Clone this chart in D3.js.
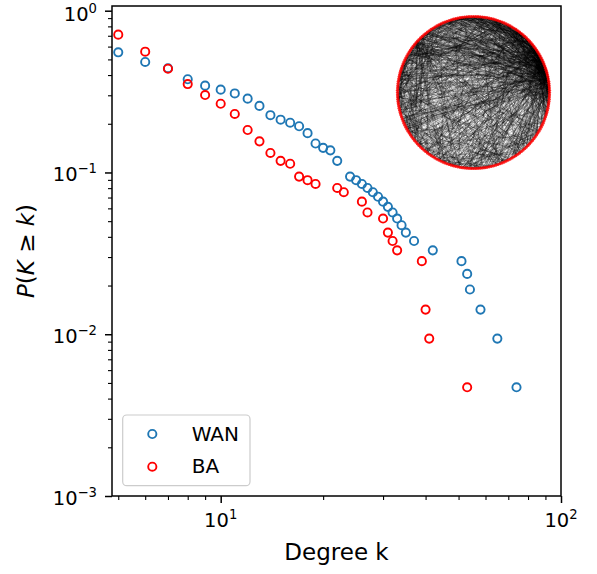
<!DOCTYPE html>
<html>
<head>
<meta charset="utf-8">
<script src="https://cdn.jsdelivr.net/npm/d3@7"></script>
<style>
  html, body { margin: 0; padding: 0; background: #ffffff; }
  svg { display: block; }
  text { font-family: "DejaVu Sans", sans-serif; fill: #000; }
</style>
</head>
<body>
<svg id="chart" width="597" height="574"></svg>
<script>
// Cumulative degree distributions P(K >= k)
const wanDegree = [5, 6, 7, 8, 9, 10, 11, 12, 13, 14, 15, 16, 17, 18, 19, 20, 21, 22,
  24, 25, 26, 27, 28, 29, 30, 31, 32, 33, 34, 35, 37, 42, 51, 53, 54, 58, 65, 74];
const wanP = [0.553, 0.482, 0.441, 0.377, 0.344, 0.325, 0.308, 0.286, 0.258, 0.226, 0.212, 0.203,
  0.193, 0.175, 0.151, 0.142, 0.137, 0.118,
  0.0943, 0.0896, 0.0849, 0.0802, 0.0755, 0.0708, 0.0660, 0.0613, 0.0566, 0.0519, 0.0472, 0.0425,
  0.0377, 0.0330, 0.0283, 0.0236, 0.0189, 0.0142, 0.0094, 0.0047];

const baDegree = [5, 6, 7, 8, 9, 10, 11, 12, 13, 14, 15, 16, 17, 18, 19, 22, 23, 26, 27,
  30, 31, 32, 33, 39, 40, 41, 53];
const baP = [0.711, 0.558, 0.438, 0.352, 0.301, 0.266, 0.230, 0.183, 0.1557, 0.132, 0.118, 0.1132,
  0.0943, 0.0896, 0.0849, 0.0802, 0.0755, 0.0660, 0.0566,
  0.0519, 0.0425, 0.0377, 0.0330, 0.0283, 0.0142, 0.0094, 0.0047];

const seriesNames = ["WAN", "BA"];
const seriesColors = ["#1f77b4", "#ff0000"];

// Axis ticks (powers of ten with exponent labels)
const xMajorTicks = [10, 100];
const xMajorExponents = ["1", "2"];
const yMajorTicks = [1, 0.1, 0.01, 0.001];
const yMajorExponents = ["0", "\u22121", "\u22122", "\u22123"];

const xLabel = "Degree k";

// ---- layout ----
const plot = { left: 112, right: 561, top: 6, bottom: 496 };
const svg = d3.select("#chart");

const x = d3.scaleLog().domain([4.793, 100]).range([plot.left, plot.right]);
const y = d3.scaleLog().domain([0.001, 1.0692]).range([plot.bottom, plot.top]);

// ---- inset: circular layout of a preferential-attachment network ----
function preferentialAttachment(n, m, seed) {
  let s = seed >>> 0;
  const next = () => { s = (Math.imul(s, 1664525) + 1013904223) >>> 0; return s / 4294967296; };
  const edges = [];
  let targets = d3.range(m);
  const repeated = [];
  for (let src = m; src < n; src++) {
    targets.forEach(t => edges.push([src, t]));
    repeated.push(...targets);
    for (let i = 0; i < m; i++) repeated.push(src);
    const chosen = new Set();
    while (chosen.size < m) chosen.add(repeated[Math.floor(next() * repeated.length)]);
    targets = Array.from(chosen);
  }
  return edges;
}

const insetNodes = 212;
const insetEdges = preferentialAttachment(insetNodes, 5, 20240917);
const inset = { cx: 473.5, cy: 92.5, r: 76 };
const nodePos = d3.range(insetNodes).map(i => {
  const a = 2 * Math.PI * i / insetNodes;
  return [inset.cx + inset.r * Math.cos(a), inset.cy - inset.r * Math.sin(a)];
});

const gInset = svg.append("g");
gInset.selectAll("line")
  .data(insetEdges)
  .join("line")
  .attr("x1", d => nodePos[d[0]][0]).attr("y1", d => nodePos[d[0]][1])
  .attr("x2", d => nodePos[d[1]][0]).attr("y2", d => nodePos[d[1]][1])
  .attr("stroke", "#000")
  .attr("stroke-width", 0.5)
  .attr("stroke-opacity", 0.45);
gInset.selectAll("circle")
  .data(nodePos)
  .join("circle")
  .attr("cx", d => d[0]).attr("cy", d => d[1])
  .attr("r", 1.6)
  .attr("fill", "#ff0000")
  .attr("fill-opacity", 0.85);

// ---- ticks ----
const xMinor = x.ticks().filter(v => !xMajorTicks.includes(v));
const yMinor = y.ticks().filter(v => v < 1 && Math.abs(Math.log10(v) - Math.round(Math.log10(v))) > 1e-6);

function styleAxis(g, width) {
  g.select(".domain").remove();
  g.selectAll(".tick line").attr("stroke", "#000").attr("stroke-width", width);
  g.selectAll(".tick text").remove();
}

svg.append("g").attr("transform", `translate(0,${plot.bottom})`)
  .call(d3.axisBottom(x).tickValues(xMajorTicks).tickSize(7).tickFormat(""))
  .call(g => styleAxis(g, 1.5));
svg.append("g").attr("transform", `translate(0,${plot.bottom})`)
  .call(d3.axisBottom(x).tickValues(xMinor).tickSize(4).tickFormat(""))
  .call(g => styleAxis(g, 1.1));
svg.append("g").attr("transform", `translate(${plot.left},0)`)
  .call(d3.axisLeft(y).tickValues(yMajorTicks).tickSize(7).tickFormat(""))
  .call(g => styleAxis(g, 1.5));
svg.append("g").attr("transform", `translate(${plot.left},0)`)
  .call(d3.axisLeft(y).tickValues(yMinor).tickSize(4).tickFormat(""))
  .call(g => styleAxis(g, 1.1));

// tick labels: 10 with superscript exponent
xMajorTicks.forEach((v, i) => {
  const t = svg.append("text")
    .attr("x", x(v)).attr("y", 527)
    .attr("text-anchor", "middle")
    .attr("font-size", 19.5);
  t.append("tspan").text("10");
  t.append("tspan").attr("dy", -8).attr("font-size", 13.2).text(xMajorExponents[i]);
});
yMajorTicks.forEach((v, i) => {
  const t = svg.append("text")
    .attr("x", 97).attr("y", Math.max(y(v) + 8.7, 21))
    .attr("text-anchor", "end")
    .attr("font-size", 19.5);
  t.append("tspan").text("10");
  t.append("tspan").attr("dy", -8).attr("font-size", 13.2).text(yMajorExponents[i]);
});

// ---- frame ----
svg.append("rect")
  .attr("x", plot.left).attr("y", plot.top)
  .attr("width", plot.right - plot.left).attr("height", plot.bottom - plot.top)
  .attr("fill", "none").attr("stroke", "#000").attr("stroke-width", 1.5);

// ---- data ----
const series = [
  { name: seriesNames[0], color: seriesColors[0], pts: wanDegree.map((k, i) => [k, wanP[i]]) },
  { name: seriesNames[1], color: seriesColors[1], pts: baDegree.map((k, i) => [k, baP[i]]) }
];
series.forEach(s => {
  svg.append("g").selectAll("circle")
    .data(s.pts)
    .join("circle")
    .attr("cx", d => x(d[0])).attr("cy", d => y(d[1]))
    .attr("r", 4.1)
    .attr("fill", "none")
    .attr("stroke", s.color)
    .attr("stroke-width", 1.9);
});

// ---- axis labels ----
svg.append("text")
  .attr("x", (plot.left + plot.right) / 2).attr("y", 560)
  .attr("text-anchor", "middle")
  .attr("font-size", 23)
  .text(xLabel);

const yl = svg.append("text")
  .attr("transform", `translate(34,${(plot.top + plot.bottom) / 2}) rotate(-90)`)
  .attr("text-anchor", "middle")
  .attr("font-size", 23);
[["P", true], ["(", false], ["K", true], [" \u2265 ", false], ["k", true], [")", false]]
  .forEach(([s, it]) => yl.append("tspan").attr("font-style", it ? "italic" : "normal").text(s));

// ---- legend ----
const legend = svg.append("g");
legend.append("rect")
  .attr("x", 122.7).attr("y", 415).attr("width", 127.3).attr("height", 70.7)
  .attr("rx", 4).attr("ry", 4)
  .attr("fill", "#fff").attr("fill-opacity", 0.8)
  .attr("stroke", "#cccccc").attr("stroke-width", 1.2);
series.forEach((s, i) => {
  const cy = 434 + i * 32.7;
  legend.append("circle")
    .attr("cx", 152.3).attr("cy", cy).attr("r", 4.1)
    .attr("fill", "none").attr("stroke", s.color).attr("stroke-width", 1.9);
  legend.append("text")
    .attr("x", 191.7).attr("y", cy + 6.5)
    .attr("font-size", 20)
    .text(s.name);
});
</script>
</body>
</html>
